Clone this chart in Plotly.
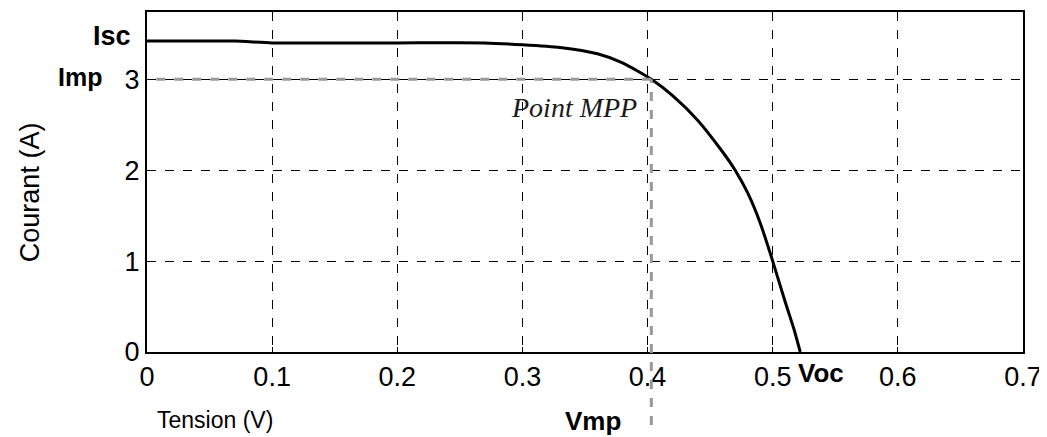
import plotly.graph_objects as go

tension = [0, 0.03, 0.07, 0.1, 0.15, 0.2, 0.27, 0.3, 0.33, 0.36, 0.38, 0.403, 0.42, 0.44, 0.46, 0.47, 0.48, 0.49, 0.5, 0.51, 0.517, 0.522]
courant = [3.42, 3.42, 3.42, 3.40, 3.40, 3.40, 3.40, 3.38, 3.35, 3.28, 3.18, 3.0, 2.82, 2.55, 2.2, 2.0, 1.75, 1.42, 1.0, 0.55, 0.25, 0.0]
x_ticks = [0, 0.1, 0.2, 0.3, 0.4, 0.5, 0.6, 0.7]
x_tick_labels = ["0", "0.1", "0.2", "0.3", "0.4", "0.5", "0.6", "0.7"]
y_ticks = [0, 1, 2, 3]
y_tick_labels = ["0", "1", "2", "3"]
isc = 3.42
imp = 3.0
vmp = 0.403
voc = 0.519
y_max = 3.74

regular = "Liberation Sans, Arial, sans-serif"

fig = go.Figure()
fig.add_trace(go.Scatter(x=tension, y=courant, mode="lines",
                         line=dict(color="black", width=3, shape="spline", smoothing=0.6),
                         showlegend=False))

# MPP dashed guides
fig.add_shape(type="line", xref="x", yref="y", x0=-0.007, x1=vmp, y0=imp, y1=imp,
              line=dict(color="#999999", width=3, dash="dash"), layer="above")
fig.add_shape(type="line", xref="x", yref="paper", x0=vmp, x1=vmp, y0=-0.215, y1=imp / y_max,
              line=dict(color="#999999", width=3, dash="dash"), layer="above")

ann = [
    dict(text="<b>Isc</b>", x=0, y=isc, xref="paper", yref="y", xanchor="right", xshift=-14, yshift=5,
         showarrow=False, font=dict(size=27, color="black", family=regular)),
    dict(text="<b>Imp</b>", x=0, y=imp, xref="paper", yref="y", xanchor="right", xshift=-43, yshift=2,
         showarrow=False, font=dict(size=25, color="black", family=regular)),
    dict(text="<b>Voc</b>", x=voc, y=-0.012, xref="x", yref="paper", xanchor="left", yanchor="top",
         showarrow=False, font=dict(size=26, color="black", family=regular)),
    dict(text="<b>Vmp</b>", x=vmp, y=-0.203, xref="x", yref="paper", xanchor="left", yanchor="middle", xshift=-88,
         showarrow=False, font=dict(size=26, color="black", family=regular)),
    dict(text="<i>Point MPP</i>", x=vmp, y=2.69, xref="x", yref="y", xanchor="right", xshift=-12,
         showarrow=False, font=dict(size=28, color="#1a1a1a", family="Liberation Serif, Times New Roman, serif")),
    dict(text="Tension (V)", x=0.009, y=-0.2, xref="paper", yref="paper", xanchor="left", yanchor="middle",
         showarrow=False, font=dict(size=23, color="black", family=regular)),
    dict(text="Courant (A)", x=-0.1336, y=0.47, xref="paper", yref="paper", textangle=-90,
         xanchor="center", yanchor="middle",
         showarrow=False, font=dict(size=27, color="black", family=regular)),
]
fig.update_layout(annotations=ann)

axis_common = dict(showgrid=True, gridcolor="black", griddash="dash", gridwidth=1,
                   showline=True, linecolor="black", linewidth=2, mirror=True,
                   ticks="inside", ticklen=5, tickcolor="black", zeroline=False,
                   tickfont=dict(size=27, color="black", family=regular))
fig.update_xaxes(range=[0, 0.7], tickvals=x_ticks, ticktext=x_tick_labels, **axis_common)
fig.update_yaxes(range=[0, y_max], tickvals=y_ticks, ticktext=y_tick_labels, **axis_common)

fig.update_layout(width=1039, height=429, margin=dict(l=139, r=24, t=4, b=85, autoexpand=False),
                  plot_bgcolor="white", paper_bgcolor="white",
                  font=dict(family=regular, color="black"))

fig.write_html("out.html")
